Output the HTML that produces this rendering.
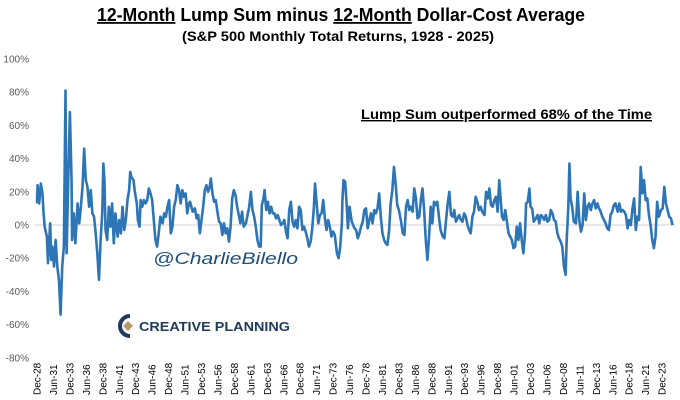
<!DOCTYPE html>
<html><head><meta charset="utf-8">
<style>
body{margin:0;background:#fff;}
#wrap{position:relative;width:680px;height:400px;overflow:hidden;font-family:"Liberation Sans",sans-serif;}
</style></head>
<body>
<div id="wrap">
<svg id="chart" width="680" height="400" xmlns="http://www.w3.org/2000/svg">
  <text x="341" y="21" text-anchor="middle" textLength="488" lengthAdjust="spacingAndGlyphs" font-family="Liberation Sans, sans-serif" font-weight="bold" font-size="18" fill="#000"><tspan text-decoration="underline">12-Month</tspan> Lump Sum minus <tspan text-decoration="underline">12-Month</tspan> Dollar-Cost Average</text>
  <text x="338" y="41" text-anchor="middle" textLength="312" lengthAdjust="spacingAndGlyphs" font-family="Liberation Sans, sans-serif" font-weight="bold" font-size="14" fill="#000">(S&amp;P 500 Monthly Total Returns, 1928 - 2025)</text>
  <g id="yaxis"></g>
  <g id="xaxis"></g>
  <g id="series"></g>
  <text x="361" y="119" textLength="291" lengthAdjust="spacingAndGlyphs" font-family="Liberation Sans, sans-serif" font-weight="bold" font-size="14" fill="#000" text-decoration="underline">Lump Sum outperformed 68% of the Time</text>
  <text x="153" y="264" textLength="145" lengthAdjust="spacingAndGlyphs" font-family="Liberation Sans, sans-serif" font-style="italic" font-size="17" fill="#1f4e79">@CharlieBilello</text>
  <g>
    <path d="M130 316 A10 10 0 1 0 130 336" fill="none" stroke="#1f3a5a" stroke-width="4"/>
    <path d="M128 321 L133 326 L128 331 L123 326 Z" fill="#b89a6a"/>
    <text x="139" y="331" textLength="151" lengthAdjust="spacingAndGlyphs" font-family="Liberation Sans, sans-serif" font-size="13" font-weight="bold" fill="#1f3a5a">CREATIVE PLANNING</text>
  </g>
</svg>
</div>
<script>
const yTicks = [100, 80, 60, 40, 20, 0, -20, -40, -60, -80];
const xTickLabels = ["Dec-28","Jun-31","Dec-33","Jun-36","Dec-38","Jun-41","Dec-43","Jun-46","Dec-48","Jun-51","Dec-53","Jun-56","Dec-58","Jun-61","Dec-63","Jun-66","Dec-68","Jun-71","Dec-73","Jun-76","Dec-78","Jun-81","Dec-83","Jun-86","Dec-88","Jun-91","Dec-93","Jun-96","Dec-98","Jun-01","Dec-03","Jun-06","Dec-08","Jun-11","Dec-13","Jun-16","Dec-18","Jun-21","Dec-23"];
const xTickMonths = xTickLabels.map((_, i) => i * 30);
// months since Dec-1928
const months = [0,1,4,7,10,12,14,18,20,24,26,28,31,34,37,40,43,46,49,52,54,57,60,63,64,67,70,74,77,80,83,86,89,92,95,98,101,104,107,110,113,116,119,121,123,125,128,131,134,137,140,143,147,150,153,156,159,162,165,168,170,172,176,178,182,184,187,189,192,195,198,201,204,207,210,213,216,219,222,225,229,232,235,238,241,244,247,250,253,256,259,262,265,268,271,274,277,
279,284,288,291,294,297,300,303,306,309,312,315,317,320,323,326,329,332,335,338,341,344,347,350,353,356,359,362,365,368,371,374,377,381,384,387,390,393,396,399,402,405,408,410,413,415,418,421,424,427,430,433,436,439,442,445,448,451,454,457,460,463,466,469,472,475,478,481,484,487,490,493,496,499,502,505,507,510,513,516,519,522,525,528,531,534,537,540,543,547,550,553,556,557,559,562,565,567,570,
574,579,582,585,588,591,594,597,600,603,606,609,612,615,618,621,624,627,630,633,636,639,642,645,648,651,654,657,660,664,667,670,673,676,679,682,685,688,691,694,697,700,703,706,709,712,715,718,721,724,727,730,733,736,740,743,746,749,752,755,758,761,764,767,770,773,776,779,782,785,788,791,794,797,800,803,806,809,812,816,819,822,825,828,831,834,837,840,843,
848,851,854,857,860,863,866,869,872,875,878,881,884,887,890,892,895,898,900,903,906,910,913,916,919,922,925,928,931,934,937,940,943,946,949,952,955,958,961,964,966,969,971,973,976,979,983,986,989,992,995,998,1001,1004,1007,1010,1013,1016,1019,1022,1025,1028,1031,1034,1037,1040,1043,1046,1049,1052,1055,1059,1062,1065,1068,1071,1074,1077,1080,1083,1086,1089,1092,1095,1098,1101,1104,1107,1110,1113,1116,1119,1122,1125,1128,1131,1134,1138,1141,1144,1147,1150,1153,1156,1159];
const values = [13,24,13,25,19,7,-1,-7,-23,1,-21,-13,-25,-9,-25,-33,-54,-25,-13,81,-17,27,68,27,-9,7,-11,13,1,11,23,46,27,23,11,21,7,5,-5,-17,-33,-9,7,37,27,-3,-9,11,-1,13,-11,7,-7,3,-5,11,-3,3,15,21,32,29,27,21,13,3,-1,15,11,15,13,15,22,19,15,3,-9,-13,-5,5,1,7,5,11,15,-5,-1,11,15,24,21,13,21,17,19,7,13,
14,8,10,4,6,-5,3,11,21,24,20,23,28,19,14,15,8,2,1,-6,1,-5,-2,-10,-1,16,21,18,11,6,1,8,-1,1,6,11,20,9,5,-1,-9,-13,-13,12,16,21,9,14,7,11,7,7,4,6,3,0,1,3,-4,-8,9,14,2,-1,3,-2,11,9,-3,-1,-4,-8,-13,-10,-2,11,25,13,1,6,7,15,4,-3,3,-1,-7,-4,-6,-17,-20,-13,1,15,27,26,11,-2,11,
2,-2,-3,-8,-5,-1,2,9,10,-2,3,7,1,9,7,10,19,5,-5,-9,-11,-12,-4,13,21,35,25,12,9,2,-5,-6,11,15,9,11,8,22,16,4,5,15,22,9,-9,-21,-7,11,1,14,12,14,5,-3,-7,-8,3,13,20,6,5,9,2,4,6,3,2,7,5,0,-3,-5,5,8,17,14,9,11,8,6,20,16,22,12,11,15,17,8,27,
5,3,9,2,-5,-7,-9,-14,-13,-1,-9,1,-9,-17,-5,13,14,22,11,10,2,4,6,1,6,5,3,6,2,3,9,7,3,2,-5,-8,-10,-13,-25,-30,-9,11,37,16,11,2,1,20,3,-4,0,19,3,11,13,9,13,15,10,13,10,8,5,3,1,-2,-3,6,8,12,13,8,13,8,9,8,6,-2,3,0,10,16,-3,5,3,35,19,27,15,16,6,0,-9,-14,-7,14,5,9,10,23,13,9,5,4,0];

const NS = "http://www.w3.org/2000/svg";
const X0 = 37, PX_PER_MONTH = 6.58 / 12;
const Y0 = 225, PX_PER_PCT = 1.66;
const xScale = m => X0 + m * PX_PER_MONTH;
const yScale = v => Y0 - v * PX_PER_PCT;

const yg = document.getElementById('yaxis');
yTicks.forEach(v => {
  const t = document.createElementNS(NS, 'text');
  t.setAttribute('x', 29);
  t.setAttribute('y', yScale(v) + 3.5);
  t.setAttribute('text-anchor', 'end');
  t.setAttribute('font-size', '10');
  t.setAttribute('font-family', 'Liberation Sans, sans-serif');
  t.setAttribute('fill', '#595959');
  t.textContent = v + '%';
  
  
  yg.appendChild(t);
});
const zl = document.createElementNS(NS, 'line');
zl.setAttribute('x1', 35); zl.setAttribute('x2', 675);
zl.setAttribute('y1', yScale(0)); zl.setAttribute('y2', yScale(0));
zl.setAttribute('stroke', '#d9d9d9'); zl.setAttribute('stroke-width', '1.2');


yg.appendChild(zl);

const xg = document.getElementById('xaxis');
xTickLabels.forEach((lab, i) => {
  const x = xScale(xTickMonths[i]) + 3.5;
  const t = document.createElementNS(NS, 'text');
  t.setAttribute('transform', 'translate(' + x + ',395) rotate(-90)');
  t.setAttribute('font-size', '10');
  t.setAttribute('font-family', 'Liberation Sans, sans-serif');
  t.setAttribute('fill', '#000');
  t.textContent = lab;
  
  
  xg.appendChild(t);
});

const sg = document.getElementById('series');
const n = Math.min(months.length, values.length);
let d = '';
for (let i = 0; i < n; i++) {
  d += (i ? 'L' : 'M') + xScale(months[i]).toFixed(2) + ' ' + yScale(values[i]).toFixed(2);
}
const p = document.createElementNS(NS, 'path');
p.setAttribute('d', d);
p.setAttribute('fill', 'none');
p.setAttribute('stroke', '#2e75b6');
p.setAttribute('stroke-width', '2.6');
p.setAttribute('stroke-linejoin', 'round');


sg.appendChild(p);
</script>
</body></html>
